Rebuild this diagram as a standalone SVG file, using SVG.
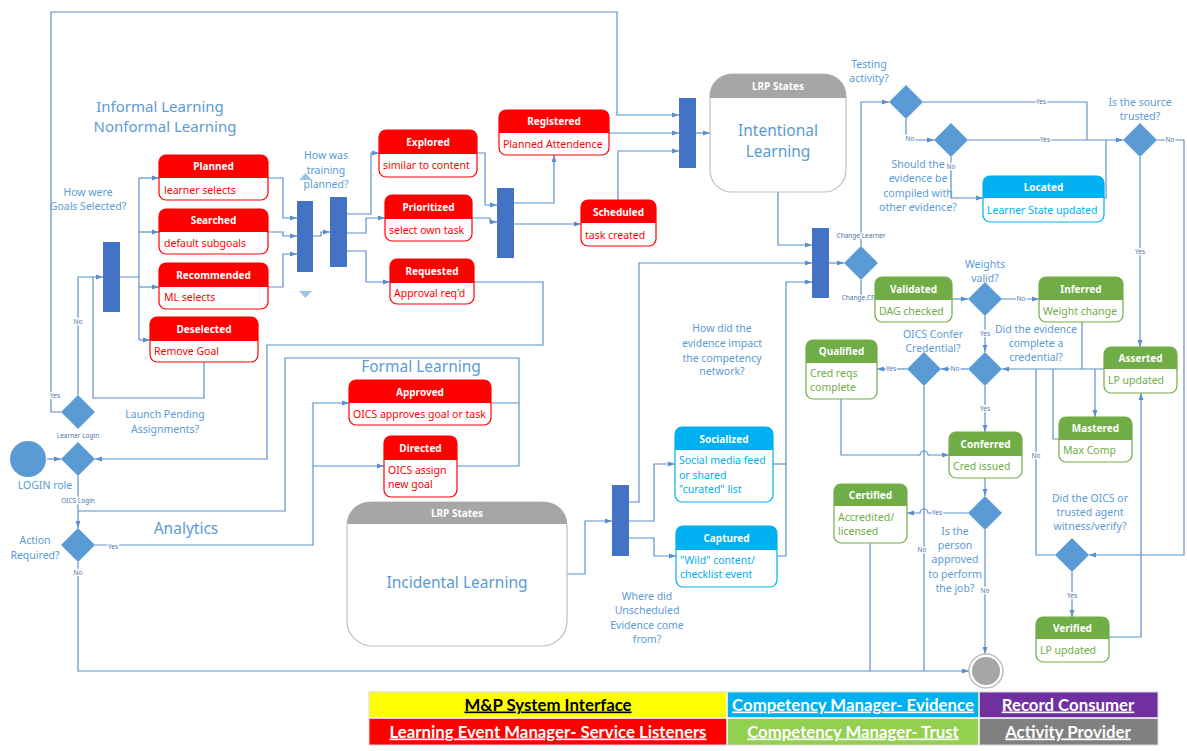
<svg xmlns="http://www.w3.org/2000/svg" width="1187" height="751" viewBox="0 0 1187 751">
<defs>
<marker id="a" viewBox="0 0 10 10" refX="10" refY="5" markerWidth="7" markerHeight="7" markerUnits="userSpaceOnUse" orient="auto"><path d="M0,1.5L10,5L0,8.5z" fill="#5B8FCB"/></marker>
<style>
text{font-family:"Noto Sans","Open Sans",sans-serif}
.c{fill:none;stroke:#5B8FCB;stroke-width:1.2}
.ar{marker-end:url(#a)}
.bar{fill:#4472C4}
.dia{fill:#5B9BD5}
.box{fill:#fff;stroke-width:1.2}
.red .box{stroke:#FF0000}.red .hdr{fill:#FF0000}.red .bt{fill:#FF0000}
.cy .box{stroke:#00B0F0}.cy .hdr{fill:#00B0F0}.cy .bt{fill:#00B0F0}
.gr .box{stroke:#70AD47}.gr .hdr{fill:#70AD47}.gr .bt{fill:#70AD47}
.ht{fill:#fff;font-weight:bold;font-size:10px;text-anchor:middle}
.bt{font-size:10.5px}
.q{fill:#5B9BD5;font-size:10.5px;text-anchor:middle}
.t{fill:#5B9BD5;font-size:15.5px;text-anchor:middle}
.t2{fill:#5B9BD5;font-size:15px;text-anchor:middle}
.sl{fill:#4F74A8;font-size:6.5px;text-anchor:middle;stroke:#fff;stroke-width:2.5px;paint-order:stroke}
.st .box{stroke:#BFBFBF}
.st .hdr{fill:#A6A6A6}
.lg{font-family:Lato,"Liberation Sans",sans-serif;font-weight:bold;font-size:16.8px;text-anchor:middle;text-decoration:underline}
</style>
</defs>
<rect width="1187" height="751" fill="#fff"/>

<g id="connectors">
<path class="c ar" d="M61,412H51V12H617V115H679"/>
<path class="c ar" d="M78,395V277H103"/>
<path class="c ar" d="M47,459H61"/>
<path class="c" d="M120,277H139M139,178V340"/>
<path class="c ar" d="M139,178H159"/>
<path class="c ar" d="M139,232H159"/>
<path class="c ar" d="M139,287H159"/>
<path class="c ar" d="M139,340H150"/>
<path class="c" d="M204,362V398H93V277"/>
<path class="c ar" d="M268,178H283V218H297"/>
<path class="c ar" d="M268,232H283V236H297"/>
<path class="c ar" d="M268,287H283V254H297"/>
<path class="c ar" d="M313,236H321V232H330"/>
<path class="c ar" d="M347,214H371V153H379"/>
<path class="c ar" d="M347,233H366V218H385"/>
<path class="c ar" d="M347,251H366V282H390"/>
<path class="c ar" d="M477,153H485V205H497"/>
<path class="c ar" d="M472,218H490V222H497"/>
<path class="c ar" d="M514,203H554V155"/>
<path class="c ar" d="M514,224H581"/>
<path class="c ar" d="M609,133H679"/>
<path class="c ar" d="M618,200V151H679"/>
<path class="c ar" d="M696,133H710"/>
<path class="c ar" d="M778,192V245H812"/>
<path class="c ar" d="M629,502H639V263H812"/>
<path class="c" d="M773,464H786"/>
<path class="c ar" d="M777,556H786V282H812"/>
<path class="c ar" d="M829,263H844"/>
<path class="c ar" d="M861,246V102H889"/>
<path class="c" d="M861,280V300H875"/>
<path class="c" d="M923,102H1087V140"/>
<path class="c ar" d="M906,119V140H934"/>
<path class="c ar" d="M968,140H1123"/>
<path class="c ar" d="M951,157V198H983"/>
<path class="c" d="M1104,198H1106V140"/>
<path class="c ar" d="M1157,140H1184V555H1089"/>
<path class="c ar" d="M1140,157V347"/>
<path class="c ar" d="M952,299H968"/>
<path class="c ar" d="M1002,299H1039"/>
<path class="c ar" d="M985,316V352"/>
<path class="c ar" d="M1104,369H1002"/>
<path class="c" d="M1082,322V369"/>
<path class="c ar" d="M1095,369V417"/>
<path class="c" d="M1059,439H1053V369"/>
<path class="c" d="M1055,555H1036V369"/>
<path class="c ar" d="M968,369H941"/>
<path class="c ar" d="M907,369H877"/>
<path class="c" d="M924,386V671"/>
<path class="c ar" d="M985,386V432"/>
<path class="c ar" d="M841,399V455H920A4,4 0 0 1 928,455H949"/>
<path class="c ar" d="M985,478V496"/>
<path class="c ar" d="M968,513H928A4,4 0 0 0 920,513H907"/>
<path class="c ar" d="M985,530V654"/>
<path class="c" d="M870,543V671"/>
<path class="c ar" d="M78,562V671H969"/>
<path class="c ar" d="M1072,572V617"/>
<path class="c ar" d="M1109,637H1141V393"/>
<path class="c ar" d="M78,476V528"/>
<path class="c" d="M491,403H519M457,466H519V358H285V511H78"/>
<path class="c ar" d="M474,282H543V345H267V459H95"/>
<path class="c ar" d="M95,545H313V403H349"/>
<path class="c ar" d="M313,466H384"/>
<path class="c ar" d="M567,574H585V521H612"/>
<path class="c ar" d="M629,521H654V464H675"/>
<path class="c ar" d="M629,538H654V556H676"/>
<polygon points="299,180 312,180 305.5,173" fill="#9DC3E6"/>
<polygon points="299,291 312,291 305.5,298" fill="#9DC3E6"/>
<text class="sl" x="55" y="398">Yes</text>
<text class="sl" x="78" y="324">No</text>
<text class="sl" x="78" y="438">Learner Login</text>
<text class="sl" x="78" y="503">OICS Login</text>
<text class="sl" x="113" y="549">Yes</text>
<text class="sl" x="78" y="575">No</text>
<text class="sl" x="861" y="238">Change Learner</text>
<text class="sl" x="858" y="300">Change CF</text>
<text class="sl" x="1041" y="104">Yes</text>
<text class="sl" x="910" y="141">No</text>
<text class="sl" x="1045" y="142">Yes</text>
<text class="sl" x="951" y="169">No</text>
<text class="sl" x="1170" y="142">No</text>
<text class="sl" x="1140" y="254">Yes</text>
<text class="sl" x="1021" y="301">No</text>
<text class="sl" x="985" y="336">Yes</text>
<text class="sl" x="955" y="371">No</text>
<text class="sl" x="891" y="371">Yes</text>
<text class="sl" x="985" y="411">Yes</text>
<text class="sl" x="937" y="515">Yes</text>
<text class="sl" x="985" y="593">No</text>
<text class="sl" x="922" y="552">No</text>
<text class="sl" x="1036" y="458">No</text>
<text class="sl" x="1072" y="598">Yes</text>
</g>

<g id="bars">
<rect class="bar" x="103" y="242" width="17" height="70"/>
<rect class="bar" x="297" y="201" width="16" height="71"/>
<rect class="bar" x="330" y="197" width="17" height="70"/>
<rect class="bar" x="497" y="188" width="17" height="70"/>
<rect class="bar" x="679" y="98" width="17" height="70"/>
<rect class="bar" x="812" y="228" width="17" height="70"/>
<rect class="bar" x="612" y="485" width="17" height="71"/>
</g>

<g id="decisions">
<polygon class="dia" points="78,395 95,412 78,429 61,412"/>
<polygon class="dia" points="78,442 95,459 78,476 61,459"/>
<polygon class="dia" points="78,528 95,545 78,562 61,545"/>
<polygon class="dia" points="861,246 878,263 861,280 844,263"/>
<polygon class="dia" points="906,85 923,102 906,119 889,102"/>
<polygon class="dia" points="951,123 968,140 951,157 934,140"/>
<polygon class="dia" points="1140,123 1157,140 1140,157 1123,140"/>
<polygon class="dia" points="985,282 1002,299 985,316 968,299"/>
<polygon class="dia" points="985,352 1002,369 985,386 968,369"/>
<polygon class="dia" points="924,352 941,369 924,386 907,369"/>
<polygon class="dia" points="985,496 1002,513 985,530 968,513"/>
<polygon class="dia" points="1072,538 1089,555 1072,572 1055,555"/>
</g>

<g id="start"><circle cx="28" cy="459" r="18" fill="#5B9BD5"/></g>
<g id="end"><circle cx="986" cy="671" r="17" fill="#fff" stroke="#BFBFBF" stroke-width="1.5"/><circle cx="986" cy="671" r="14" fill="#A6A6A6"/></g>

<g id="planned" class="red"><rect class="box" x="159" y="155" width="109" height="45" rx="7"/><path class="hdr" d="M159,178V162A7,7 0 0 1 166,155H261A7,7 0 0 1 268,162V178Z"/><text class="ht" x="213.5" y="170">Planned</text><text class="bt" x="164" y="193.5">learner selects</text></g>
<g id="searched" class="red"><rect class="box" x="159" y="209" width="109" height="45" rx="7"/><path class="hdr" d="M159,232V216A7,7 0 0 1 166,209H261A7,7 0 0 1 268,216V232Z"/><text class="ht" x="213.5" y="224">Searched</text><text class="bt" x="164" y="247">default subgoals</text></g>
<g id="recommended" class="red"><rect class="box" x="159" y="263" width="109" height="46" rx="7"/><path class="hdr" d="M159,287V270A7,7 0 0 1 166,263H261A7,7 0 0 1 268,270V287Z"/><text class="ht" x="213.5" y="278.5">Recommended</text><text class="bt" x="164" y="301">ML selects</text></g>
<g id="deselected" class="red"><rect class="box" x="150" y="317" width="108" height="45" rx="7"/><path class="hdr" d="M150,341V324A7,7 0 0 1 157,317H251A7,7 0 0 1 258,324V341Z"/><text class="ht" x="204" y="332.5">Deselected</text><text class="bt" x="154" y="355">Remove Goal</text></g>
<g id="explored" class="red"><rect class="box" x="379" y="130" width="98" height="47" rx="7"/><path class="hdr" d="M379,154V137A7,7 0 0 1 386,130H470A7,7 0 0 1 477,137V154Z"/><text class="ht" x="428" y="146">Explored</text><text class="bt" x="383" y="169">similar to content</text></g>
<g id="prioritized" class="red"><rect class="box" x="385" y="195" width="87" height="46" rx="7"/><path class="hdr" d="M385,219V202A7,7 0 0 1 392,195H465A7,7 0 0 1 472,202V219Z"/><text class="ht" x="428.5" y="211">Prioritized</text><text class="bt" x="389" y="233.5">select own task</text></g>
<g id="requested" class="red"><rect class="box" x="390" y="259" width="84" height="45" rx="7"/><path class="hdr" d="M390,283V266A7,7 0 0 1 397,259H467A7,7 0 0 1 474,266V283Z"/><text class="ht" x="432" y="274.5">Requested</text><text class="bt" x="394" y="296.5">Approval req'd</text></g>
<g id="registered" class="red"><rect class="box" x="499" y="110" width="110" height="45" rx="7"/><path class="hdr" d="M499,133V117A7,7 0 0 1 506,110H602A7,7 0 0 1 609,117V133Z"/><text class="ht" x="554" y="125">Registered</text><text class="bt" x="503" y="148">Planned Attendence</text></g>
<g id="scheduled" class="red"><rect class="box" x="581" y="200" width="75" height="46" rx="7"/><path class="hdr" d="M581,223V207A7,7 0 0 1 588,200H649A7,7 0 0 1 656,207V223Z"/><text class="ht" x="618.5" y="215.5">Scheduled</text><text class="bt" x="585" y="238.5">task created</text></g>
<g id="approved" class="red"><rect class="box" x="349" y="380" width="142" height="45" rx="7"/><path class="hdr" d="M349,403V387A7,7 0 0 1 356,380H484A7,7 0 0 1 491,387V403Z"/><text class="ht" x="420" y="395.5">Approved</text><text class="bt" x="353" y="418">OICS approves goal or task</text></g>
<g id="directed" class="red"><rect class="box" x="384" y="436" width="73" height="61" rx="7"/><path class="hdr" d="M384,460V443A7,7 0 0 1 391,436H450A7,7 0 0 1 457,443V460Z"/><text class="ht" x="420.5" y="452">Directed</text><text class="bt" x="388" y="474">OICS assign</text><text class="bt" x="388" y="488">new goal</text></g>

<g id="located" class="cy"><rect class="box" x="983" y="176" width="121" height="46" rx="7"/><path class="hdr" d="M983,198V183A7,7 0 0 1 990,176H1097A7,7 0 0 1 1104,183V198Z"/><text class="ht" x="1043.5" y="191">Located</text><text class="bt" x="987" y="213.5">Learner State updated</text></g>
<g id="socialized" class="cy"><rect class="box" x="675" y="427" width="98" height="75" rx="7"/><path class="hdr" d="M675,450V434A7,7 0 0 1 682,427H766A7,7 0 0 1 773,434V450Z"/><text class="ht" x="724" y="442.5">Socialized</text><text class="bt" x="679" y="464">Social media feed</text><text class="bt" x="679" y="479">or shared</text><text class="bt" x="679" y="493">"curated" list</text></g>
<g id="captured" class="cy"><rect class="box" x="676" y="526" width="101" height="61" rx="7"/><path class="hdr" d="M676,550V533A7,7 0 0 1 683,526H770A7,7 0 0 1 777,533V550Z"/><text class="ht" x="726.5" y="541.5">Captured</text><text class="bt" x="680" y="564">"Wild" content/</text><text class="bt" x="680" y="578">checklist event</text></g>

<g id="validated" class="gr"><rect class="box" x="875" y="277" width="77" height="45" rx="7"/><path class="hdr" d="M875,300V284A7,7 0 0 1 882,277H945A7,7 0 0 1 952,284V300Z"/><text class="ht" x="913.5" y="292.5">Validated</text><text class="bt" x="879" y="315">DAG checked</text></g>
<g id="inferred" class="gr"><rect class="box" x="1039" y="277" width="84" height="45" rx="7"/><path class="hdr" d="M1039,300V284A7,7 0 0 1 1046,277H1116A7,7 0 0 1 1123,284V300Z"/><text class="ht" x="1081" y="292.5">Inferred</text><text class="bt" x="1043" y="315">Weight change</text></g>
<g id="qualified" class="gr"><rect class="box" x="806" y="340" width="71" height="59" rx="7"/><path class="hdr" d="M806,363V347A7,7 0 0 1 813,340H870A7,7 0 0 1 877,347V363Z"/><text class="ht" x="841.5" y="355">Qualified</text><text class="bt" x="810" y="377">Cred reqs</text><text class="bt" x="810" y="391">complete</text></g>
<g id="asserted" class="gr"><rect class="box" x="1104" y="347" width="73" height="46" rx="7"/><path class="hdr" d="M1104,369V354A7,7 0 0 1 1111,347H1170A7,7 0 0 1 1177,354V369Z"/><text class="ht" x="1140.5" y="362">Asserted</text><text class="bt" x="1108" y="384">LP updated</text></g>
<g id="mastered" class="gr"><rect class="box" x="1059" y="417" width="73" height="45" rx="7"/><path class="hdr" d="M1059,440V424A7,7 0 0 1 1066,417H1125A7,7 0 0 1 1132,424V440Z"/><text class="ht" x="1095.5" y="432">Mastered</text><text class="bt" x="1063" y="454">Max Comp</text></g>
<g id="conferred" class="gr"><rect class="box" x="949" y="432" width="73" height="46" rx="7"/><path class="hdr" d="M949,456V439A7,7 0 0 1 956,432H1015A7,7 0 0 1 1022,439V456Z"/><text class="ht" x="985.5" y="447.5">Conferred</text><text class="bt" x="953" y="469.5">Cred issued</text></g>
<g id="certified" class="gr"><rect class="box" x="834" y="484" width="73" height="59" rx="7"/><path class="hdr" d="M834,506V491A7,7 0 0 1 841,484H900A7,7 0 0 1 907,491V506Z"/><text class="ht" x="870.5" y="498.5">Certified</text><text class="bt" x="838" y="521">Accredited/</text><text class="bt" x="838" y="535">licensed</text></g>
<g id="verified" class="gr"><rect class="box" x="1036" y="617" width="73" height="45" rx="7"/><path class="hdr" d="M1036,639V624A7,7 0 0 1 1043,617H1102A7,7 0 0 1 1109,624V639Z"/><text class="ht" x="1072.5" y="632">Verified</text><text class="bt" x="1040" y="654">LP updated</text></g>

<g id="intentional" class="st"><rect class="box" x="710" y="74" width="136" height="118" rx="22"/><path class="hdr" d="M710,98V96A22,22 0 0 1 732,74H824A22,22 0 0 1 846,96V98Z"/><text class="ht" x="778" y="89.5">LRP States</text><text class="t" x="778" y="136">Intentional</text><text class="t" x="778" y="157">Learning</text></g>
<g id="incidental" class="st"><rect class="box" x="347" y="502" width="220" height="144" rx="25"/><path class="hdr" d="M347,524A22,22 0 0 1 369,502H545A22,22 0 0 1 567,524Z"/><text class="ht" x="457" y="517">LRP States</text><text class="t" x="457" y="588">Incidental Learning</text></g>

<g id="labels">
<text class="t2" x="160" y="112">Informal Learning</text>
<text class="t2" x="165" y="132">Nonformal Learning</text>
<text class="t" x="186" y="534">Analytics</text>
<text class="t" x="421" y="372">Formal Learning</text>
<text class="q" x="88" y="196">How were</text><text class="q" x="88" y="210">Goals Selected?</text>
<text class="q" x="326" y="159">How was</text><text class="q" x="326" y="174">training</text><text class="q" x="326" y="188">planned?</text>
<text class="q" x="869" y="68">Testing</text><text class="q" x="869" y="82">activity?</text>
<text class="q" x="918" y="168">Should the</text><text class="q" x="918" y="182">evidence be</text><text class="q" x="918" y="197">compiled with</text><text class="q" x="918" y="211">other evidence?</text>
<text class="q" x="1140" y="106">Is the source</text><text class="q" x="1140" y="120">trusted?</text>
<text class="q" x="985" y="268">Weights</text><text class="q" x="985" y="282">valid?</text>
<text class="q" x="1036" y="333">Did the evidence</text><text class="q" x="1036" y="347">complete a</text><text class="q" x="1036" y="361">credential?</text>
<text class="q" x="933" y="338">OICS Confer</text><text class="q" x="933" y="352">Credential?</text>
<text class="q" x="722" y="332">How did the</text><text class="q" x="722" y="347">evidence impact</text><text class="q" x="722" y="362">the competency</text><text class="q" x="722" y="375">network?</text>
<text class="q" x="955" y="535">Is the</text><text class="q" x="955" y="549">person</text><text class="q" x="955" y="563">approved</text><text class="q" x="955" y="578">to perform</text><text class="q" x="955" y="592">the job?</text>
<text class="q" x="1090" y="502">Did the OICS or</text><text class="q" x="1090" y="516">trusted agent</text><text class="q" x="1090" y="530">witness/verify?</text>
<text class="q" x="647" y="600">Where did</text><text class="q" x="647" y="614">Unscheduled</text><text class="q" x="647" y="629">Evidence come</text><text class="q" x="647" y="643">from?</text>
<text class="q" x="165" y="418">Launch Pending</text><text class="q" x="165" y="433">Assignments?</text>
<text class="q" x="35" y="544">Action</text><text class="q" x="35" y="559">Required?</text>
<text class="q" x="45" y="489">LOGIN role</text>
</g>

<g id="legend">
<rect x="369" y="692" width="358" height="26" fill="#FFFF00"/>
<rect x="727" y="692" width="252" height="26" fill="#00B0F0"/>
<rect x="979" y="692" width="179" height="26" fill="#7030A0"/>
<rect x="369" y="718" width="358" height="27" fill="#FF0000"/>
<rect x="727" y="718" width="252" height="27" fill="#92D050"/>
<rect x="979" y="718" width="179" height="27" fill="#808080"/>
<path d="M369,718H1158M727,692V745M979,692V745" stroke="#fff" stroke-width="1.5"/>
<rect x="369" y="692" width="789" height="53" fill="none" stroke="#D9D9D9" stroke-width="1"/>
<text class="lg" x="548" y="710.5" fill="#000">M&amp;P System Interface</text>
<text class="lg" x="853" y="710.5" fill="#fff">Competency Manager- Evidence</text>
<text class="lg" x="1068" y="710.5" fill="#fff">Record Consumer</text>
<text class="lg" x="548" y="737.5" fill="#fff">Learning Event Manager- Service Listeners</text>
<text class="lg" x="853" y="737.5" fill="#fff">Competency Manager- Trust</text>
<text class="lg" x="1068" y="737.5" fill="#fff">Activity Provider</text>
</g>
</svg>
